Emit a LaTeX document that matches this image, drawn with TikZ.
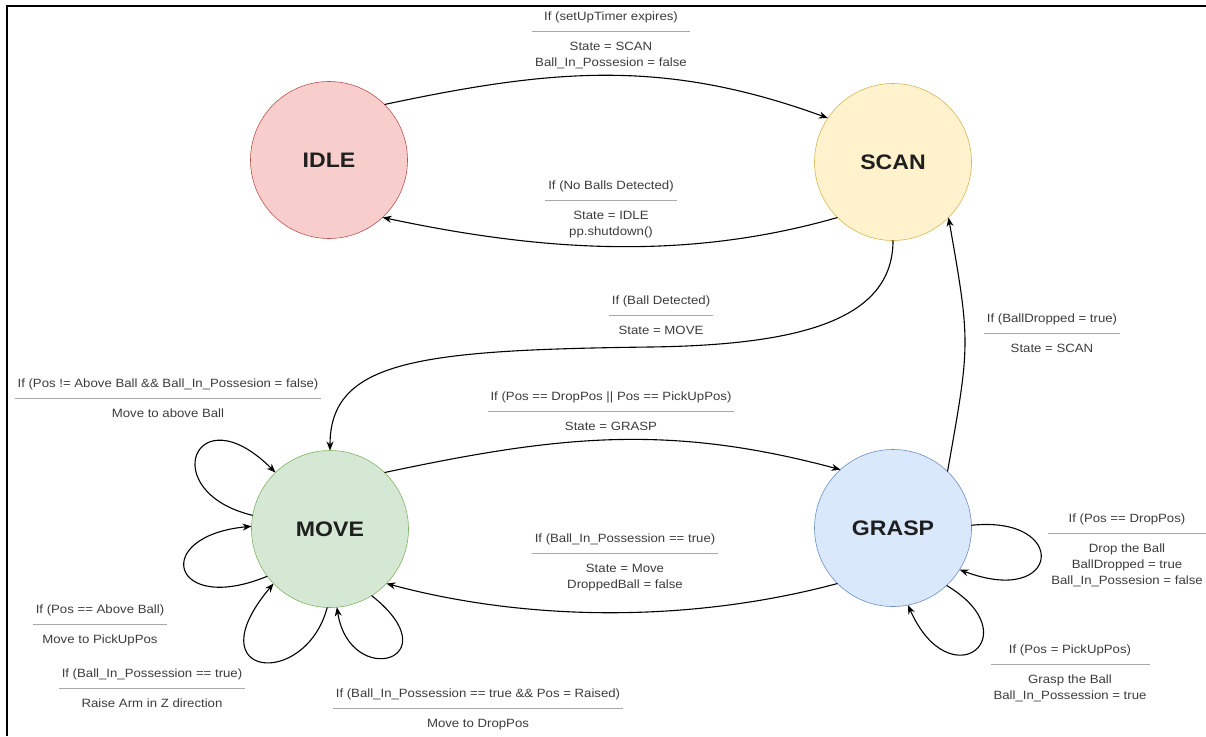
\documentclass[tikz,border=0pt]{standalone}
\usepackage{fontspec}
\setmainfont[FakeStretch=1.1]{Liberation Sans}
\usepackage{colortbl}
\usetikzlibrary{arrows.meta}

\definecolor{idlefill}{HTML}{F8CECC}
\definecolor{idledraw}{HTML}{B85450}
\definecolor{scanfill}{HTML}{FFF2CC}
\definecolor{scandraw}{HTML}{D6B656}
\definecolor{movefill}{HTML}{D5E8D4}
\definecolor{movedraw}{HTML}{82B366}
\definecolor{graspfill}{HTML}{DAE8FC}
\definecolor{graspdraw}{HTML}{6C8EBF}
\definecolor{labelgray}{HTML}{3C3C3C}
\definecolor{rulegray}{HTML}{A8A8A8}

\newcommand{\guardlabel}[2]{{\arrayrulecolor{rulegray}\setlength{\arrayrulewidth}{0.9pt}\setlength{\tabcolsep}{3pt}%
    \begin{tabular}{c}#1\\\noalign{\vskip 5.5pt}\hline\noalign{\vskip 8pt}#2\end{tabular}}}

\tikzset{
    statenode/.style={circle, minimum size=157pt, inner sep=0pt, outer sep=0pt, line width=0.6pt,
                      font=\fontsize{21}{24}\selectfont\bfseries, text=black!88},
    guard/.style={anchor=north, inner sep=0pt, text=labelgray, font=\fontsize{12}{16}\selectfont},
    trans/.style={line width=1.1pt, -{Stealth[length=9pt, width=7pt]}},
}

\begin{document}
\begin{tikzpicture}[x=1pt, y=-1pt]
    \useasboundingbox (0,0) rectangle (1206,736);
    \draw[line width=1.3pt] (7,736) -- (7,6) -- (1206,6);

    \node[statenode, fill=idlefill, draw=idledraw] (idle) at (329,160) {IDLE};
    \node[statenode, fill=scanfill, draw=scandraw] (scan) at (893,162) {SCAN};
    \node[statenode, fill=movefill, draw=movedraw] (move) at (330,529) {MOVE};
    \node[statenode, fill=graspfill, draw=graspdraw] (grasp) at (893,528) {GRASP};

    \node[guard] (gIdleScan) at (611,9) {\guardlabel{If (setUpTimer expires)}{State = SCAN\\Ball\_In\_Possesion = false}};
    \node[guard] (gScanIdle) at (611,178) {\guardlabel{If (No Balls Detected)}{State = IDLE\\pp.shutdown()}};
    \node[guard] (gScanMove) at (661,293) {\guardlabel{If (Ball Detected)}{State = MOVE}};
    \node[guard] (gMoveGrasp) at (611,389) {\guardlabel{If (Pos == DropPos || Pos == PickUpPos)}{State = GRASP}};
    \node[guard] (gGraspMove) at (625,531) {\guardlabel{If (Ball\_In\_Possession == true)}{State = Move\\DroppedBall = false}};
    \node[guard] (gGraspScan) at (1052,311) {\guardlabel{If (BallDropped = true)}{State = SCAN}};
    \node[guard] (gMoveAbove) at (168,376) {\guardlabel{If (Pos != Above Ball \&\& Ball\_In\_Possesion = false)}{Move to above Ball}};
    \node[guard] (gMovePick) at (100,602) {\guardlabel{If (Pos == Above Ball)}{Move to PickUpPos}};
    \node[guard] (gMoveRaise) at (152,666) {\guardlabel{If (Ball\_In\_Possession == true)}{Raise Arm in Z direction}};
    \node[guard] (gMoveDrop) at (478,686) {\guardlabel{If (Ball\_In\_Possession == true \&\& Pos = Raised)}{Move to DropPos}};
    \node[guard] (gGraspDrop) at (1127,511) {\guardlabel{If (Pos == DropPos)}{Drop the Ball\\BallDropped = true\\Ball\_In\_Possesion = false}};
    \node[guard] (gGraspPick) at (1070,642) {\guardlabel{If (Pos = PickUpPos)}{Grasp the Ball\\Ball\_In\_Possession = true}};

    \draw[trans] (idle.45) to[out=12, in=160] (scan.146);
    \draw[trans] (scan.225) to[out=196, in=348, looseness=0.9] (idle.313);
    \draw[trans] (scan.south) .. controls (893,320) and (800,345) .. (650,347) .. controls (420,350) and (330,360) .. (move.north);
    \draw[trans] (move.46) to[out=12, in=165] (grasp.132);
    \draw[trans] (grasp.225) to[out=195, in=345, looseness=0.85] (move.316);
    \draw[trans] (grasp.46) to[out=80, in=-80, looseness=1.3] (scan.315);

    \draw[trans] (move.170) .. controls (155,492) and (195,392) .. (move.134);
    \draw[trans] (move.217) .. controls (171,616) and (150,536) .. (move.178);
    \draw[trans] (move.268) .. controls (305,690) and (194,678) .. (move.224);
    \draw[trans] (move.302) .. controls (453,660) and (350,690) .. (move.275);
    \draw[trans] (grasp.2) .. controls (1070,515) and (1061,608) .. (grasp.328);
    \draw[trans] (grasp.313) .. controls (1031,636) and (950,700) .. (grasp.281);
\end{tikzpicture}
\end{document}
